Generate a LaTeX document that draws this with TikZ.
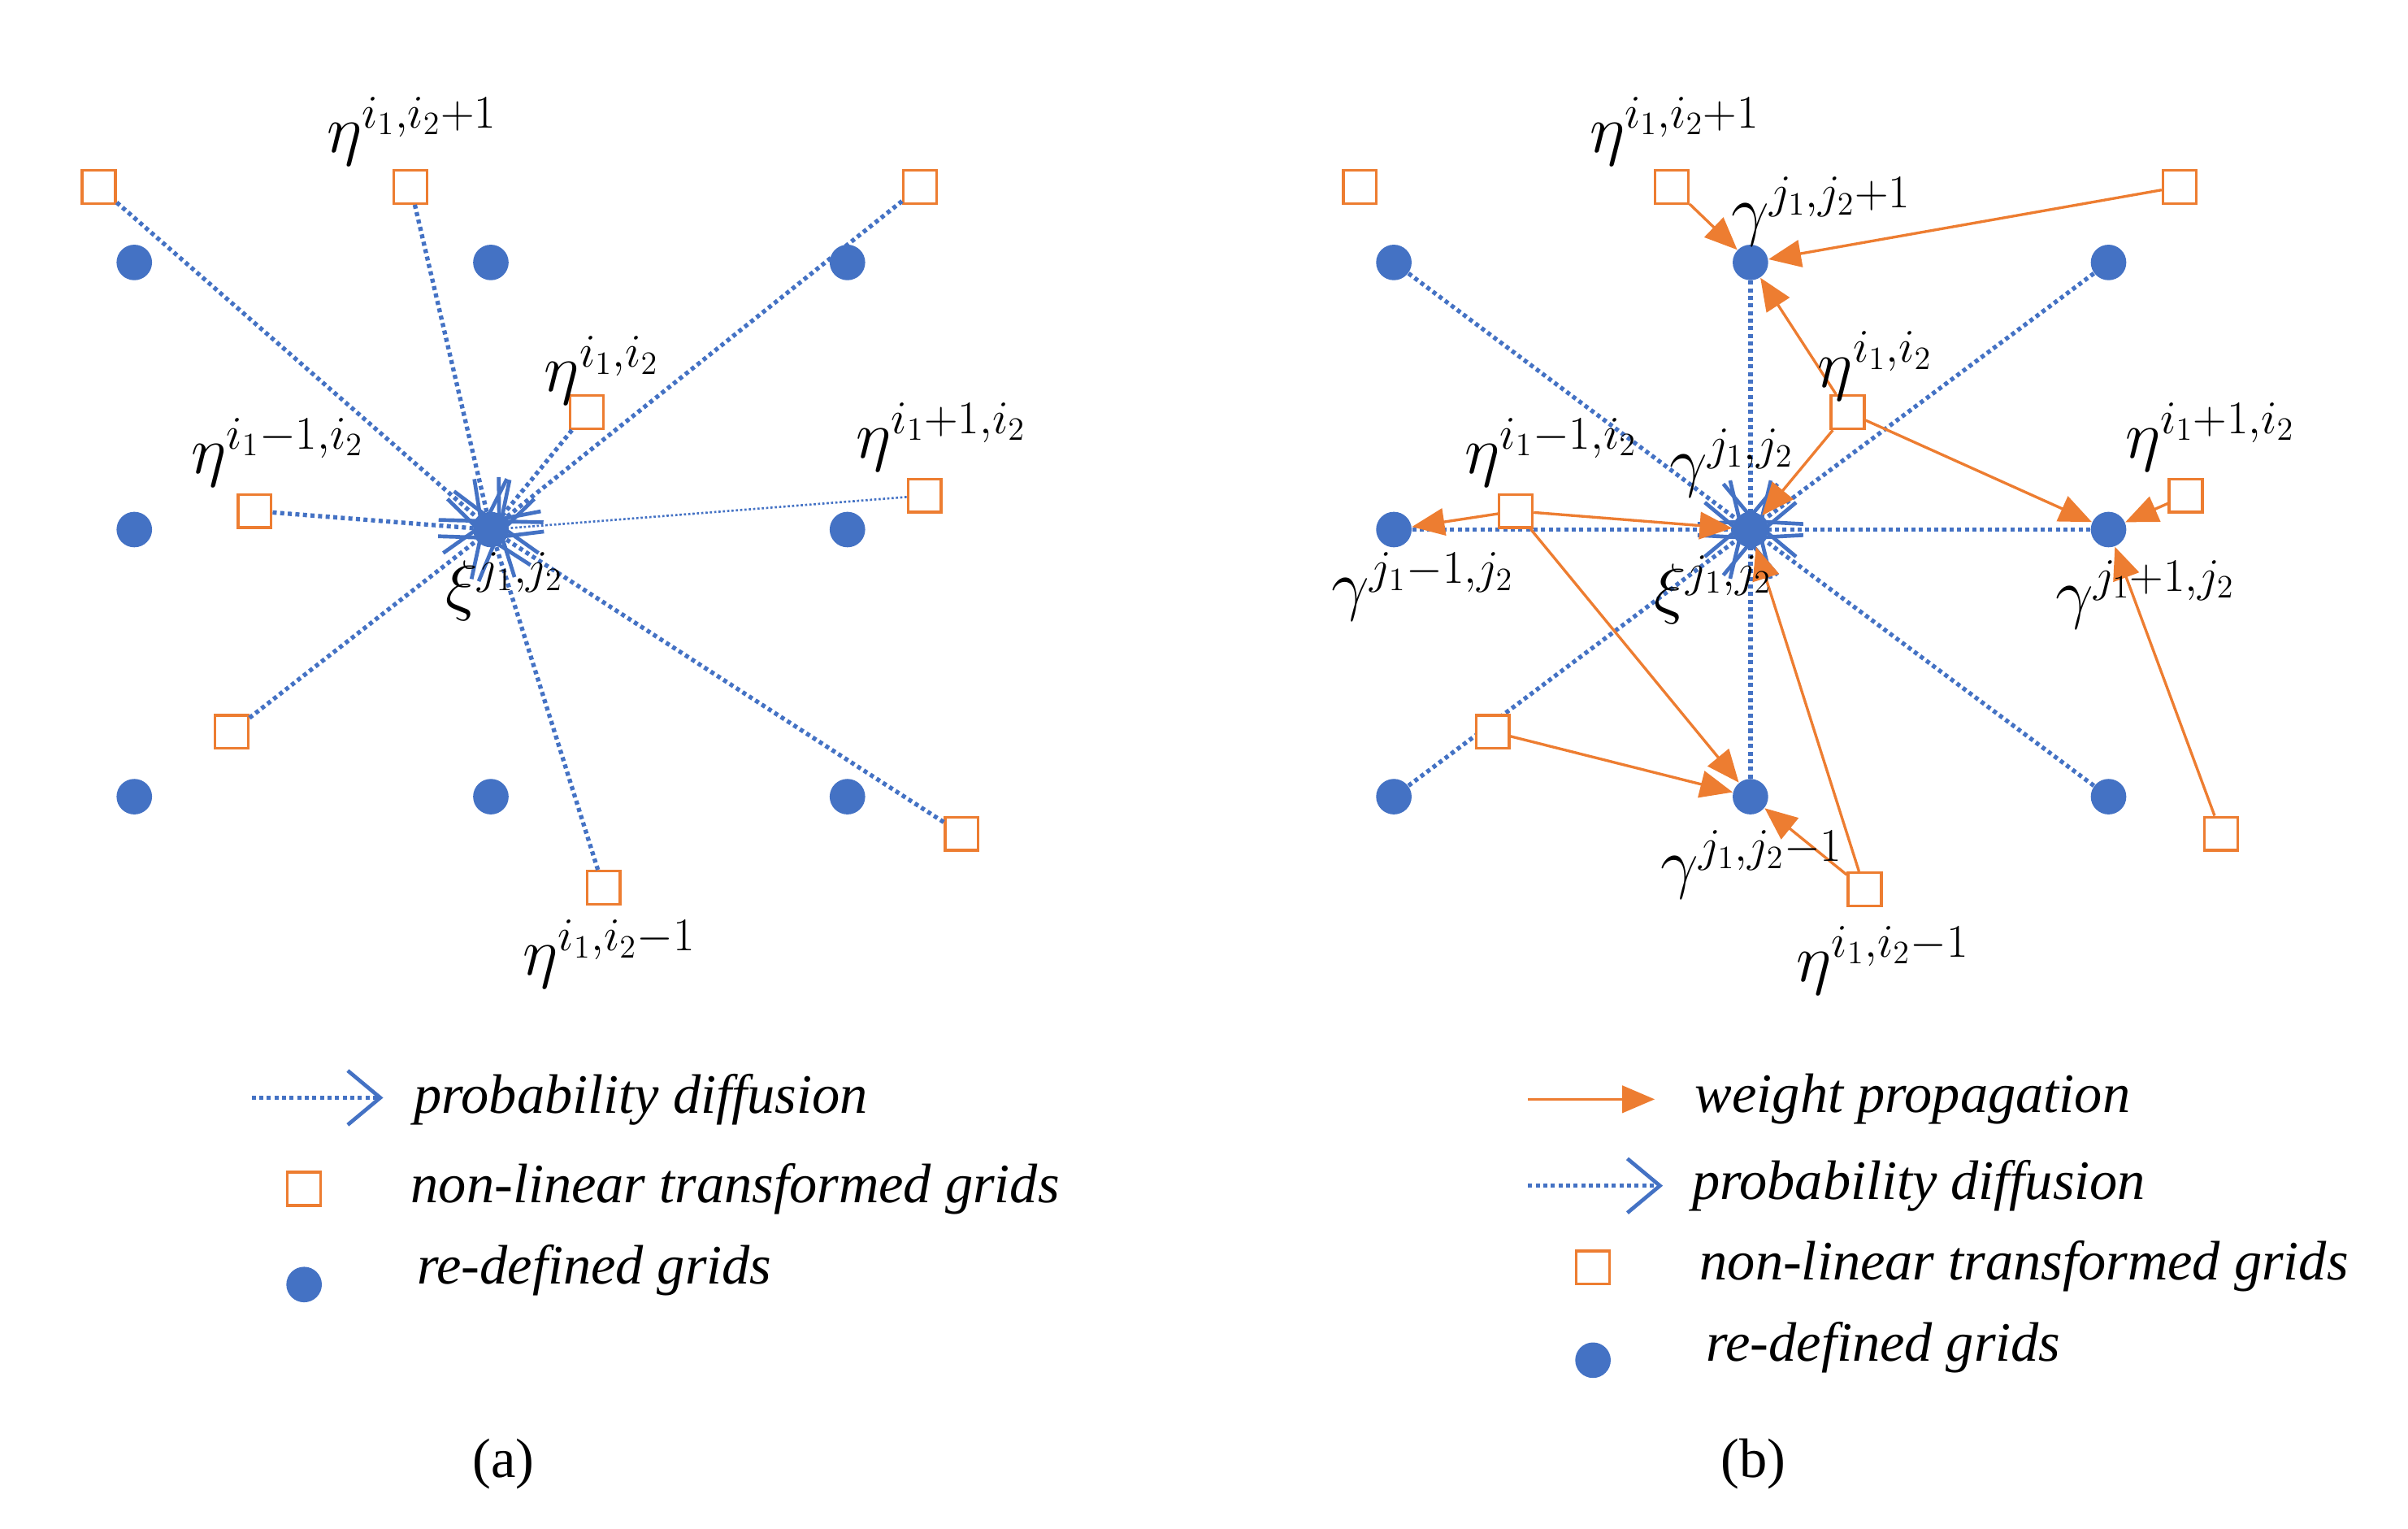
\documentclass[tikz,border=0pt]{standalone}
\usepackage{fontspec}
\setmainfont{Liberation Serif}
\usetikzlibrary{arrows.meta}
\definecolor{myblue}{HTML}{4472C4}
\definecolor{myorange}{HTML}{ED7D31}
\begin{document}
\begin{tikzpicture}[x=0.02cm,y=-0.02cm,
  dot/.style={circle,fill=myblue,inner sep=0pt,minimum size=0.46cm},
  sq/.style={rectangle,draw=myorange,line width=1pt,fill=white,inner sep=0pt,minimum size=0.43cm},
  diff/.style={draw=myblue,line width=1.6pt,dash pattern=on 1.5pt off 1.3pt,-{Straight Barb[length=12pt,width=20pt,line width=1.4pt,sep=-3pt]}},
  wp/.style={draw=myorange,line width=1pt,-{Triangle[length=12pt,width=10pt]}},
  lab/.style={font=\fontsize{24}{28}\selectfont},
  leg/.style={font=\fontsize{20.5}{24}\selectfont\itshape,anchor=west},
  captxt/.style={font=\fontsize{20.5}{24}\selectfont}]
\useasboundingbox (0,0) rectangle (1560,990);
% ---------- panel (a)
\foreach \n/\x/\y in {a1/87/170,a2/318/170,a3/549/170,a4/87/343,ac/318/343,a6/549/343,a7/87/516,a8/318/516,a9/549/516}
  \node[dot] (\n) at (\x,\y) {};
\foreach \n/\x/\y in {s1/64/121,s2/266/121,s3/596/121,s4/380/267,s5/165/331,s6/599/321,s7/150/474,s8/623/540,s9/391/575}
  \node[sq] (\n) at (\x,\y) {};
\foreach \n in {s1,s2,s3,s4,s5,s7,s8,s9}
  \draw[diff] (\n) -- (ac);
\draw[diff,line width=0.8pt,dash pattern=on 0.8pt off 0.8pt] (s6) -- (ac);
\node[lab] at (267,85) {$\eta^{i_1,i_2+1}$};
\node[lab] at (390,240) {$\eta^{i_1,i_2}$};
\node[lab] at (180,293) {$\eta^{i_1-1,i_2}$};
\node[lab] at (610,283) {$\eta^{i_1+1,i_2}$};
\node[lab] at (327,380) {$\xi^{j_1,j_2}$};
\node[lab] at (395,618) {$\eta^{i_1,i_2-1}$};
% legend (a)
\coordinate (la1) at (163,711); \coordinate (la2) at (243,711);
\draw[diff] (la1) -- (la2);
\node[leg] at (262,712) {probability diffusion};
\node[sq] (lsa) at (197,770) {};
\node[leg] at (260,770) {non-linear transformed grids};
\node[dot] (lda) at (197,832) {};
\node[leg] at (264,823) {re-defined grids};
\node[captxt] at (326,948) {(a)};
% ---------- panel (b)
\foreach \n/\x/\y in {b1/903/170,b2/1134/170,b3/1366/170,b4/903/343,bc/1134/343,b6/1366/343,b7/903/516,b8/1134/516,b9/1366/516}
  \node[dot] (\n) at (\x,\y) {};
\foreach \n/\x/\y in {t1/881/121,t2/1083/121,t3/1412/121,t4/1197/267,t5/982/331,t6/1416/321,t7/967/474,t8/1439/540,t9/1208/576}
  \node[sq] (\n) at (\x,\y) {};
\foreach \n in {b1,b2,b3,b4,b6,b7,b8,b9}
  \draw[diff] (\n) -- (bc);
\foreach \n in {t4,t5,t7}
  \node[sq] at (\n) {};
\draw[wp] (t2) -- (b2);
\draw[wp] (t3) -- (b2);
\draw[wp] (t4) -- (b2);
\draw[wp] (t4) -- (b6);
\draw[wp] (t4) -- (bc);
\draw[wp] (t5) -- (b4);
\draw[wp] (t5) -- (bc);
\draw[wp] (t5) -- (b8);
\draw[wp] (t7) -- (b8);
\draw[wp] (t6) -- (b6);
\draw[wp] (t8) -- (b6);
\draw[wp] (t9) -- (b8);
\draw[wp] (t9) -- (bc);
\node[lab] at (1085,85) {$\eta^{i_1,i_2+1}$};
\node[lab] at (1180,137) {$\gamma^{j_1,j_2+1}$};
\node[lab] at (1215,237) {$\eta^{i_1,i_2}$};
\node[lab] at (1005,293) {$\eta^{i_1-1,i_2}$};
\node[lab] at (1122,300) {$\gamma^{j_1,j_2}$};
\node[lab] at (1432,283) {$\eta^{i_1+1,i_2}$};
\node[lab] at (922,380) {$\gamma^{j_1-1,j_2}$};
\node[lab] at (1110,382) {$\xi^{j_1,j_2}$};
\node[lab] at (1390,385) {$\gamma^{j_1+1,j_2}$};
\node[lab] at (1135,560) {$\gamma^{j_1,j_2-1}$};
\node[lab] at (1220,622) {$\eta^{i_1,i_2-1}$};
% legend (b)
\coordinate (lb1) at (990,712); \coordinate (lb2) at (1072,712);
\draw[wp] (lb1) -- (lb2);
\node[leg] at (1092,712) {weight propagation};
\coordinate (lb3) at (990,768); \coordinate (lb4) at (1072,768);
\draw[diff] (lb3) -- (lb4);
\node[leg] at (1090,768) {probability diffusion};
\node[sq] (lsb) at (1032,821) {};
\node[leg] at (1095,820) {non-linear transformed grids};
\node[dot] (ldb) at (1032,881) {};
\node[leg] at (1099,873) {re-defined grids};
\node[captxt] at (1136,948) {(b)};
\end{tikzpicture}
\end{document}
